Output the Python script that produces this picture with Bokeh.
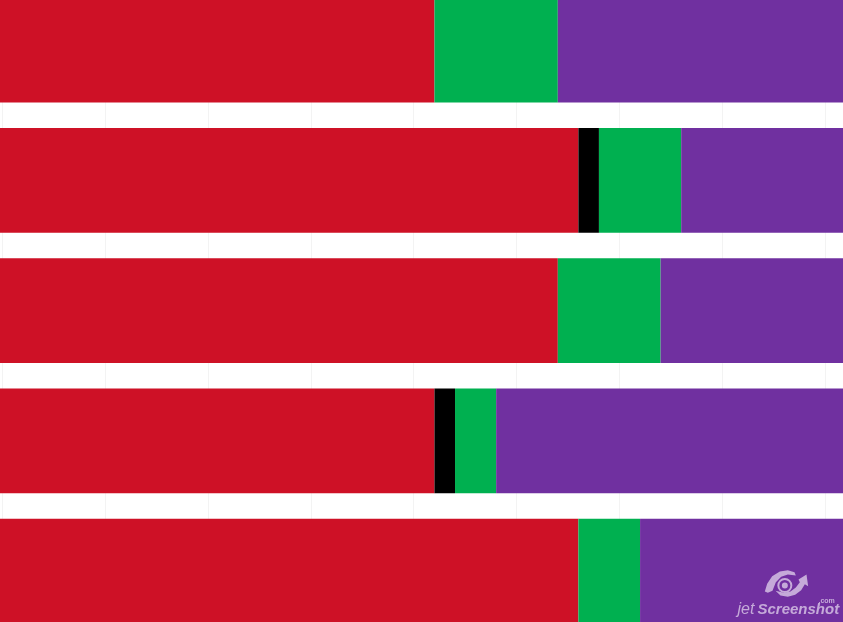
from bokeh.plotting import figure
from bokeh.embed import file_html
from bokeh.resources import INLINE
from bokeh.models import Range1d, Label, FixedTicker

rows = ["A", "B", "C", "D", "E"]
red = [21, 28, 27, 21, 28]
black = [0, 1, 0, 1, 0]
green = [6, 4, 5, 2, 3]
purple = [14, 8, 9, 17, 10]
x_ticks = [0, 5, 10, 15, 20, 25, 30, 35, 40]

W, H = 844, 623          # one extra pixel: the frame starts one pixel in
UNIT_PX = 20.56
ZERO_PX = 3.2
ROW_PX = 130.25
FIRST_ROW_PX = 50.6
x0 = -ZERO_PX / UNIT_PX
x1 = x0 + W / UNIT_PX
y_top = -FIRST_ROW_PX / ROW_PX
y_bottom = y_top + H / ROW_PX

p = figure(width=W, height=H, output_backend="svg", toolbar_location=None,
           x_range=Range1d(x0, x1), y_range=Range1d(y_bottom, y_top),
           min_border=0, min_border_left=0, min_border_right=0, min_border_top=0, min_border_bottom=0)
p.outline_line_color = None
p.axis.visible = False
p.ygrid.visible = False
p.xgrid.ticker = FixedTicker(ticks=x_ticks)
p.xgrid.grid_line_color = "#f3f3f3"
p.xgrid.grid_line_width = 1
p.background_fill_color = "white"
p.styles = {"position": "fixed", "left": "-1px", "top": "-1px"}

ys = list(range(len(rows)))
left = [0.0] * 5
for vals, col in [(red, "#CE1126"), (black, "#000000"), (green, "#00B050"), (purple, "#7030A0")]:
    right = [a + b for a, b in zip(left, vals)]
    # the first series runs on to the plot's left edge, as in the reference
    starts = [x0 - 1 if col == "#CE1126" else a for a in left]
    p.hbar(y=ys, left=starts, right=right, height=104.6 / ROW_PX, fill_color=col, line_color=None)
    left = right

# watermark, given in pixels of the reference image
mark = "#C5AAD9"
def sx(px):
    return x0 + (px + 1) / UNIT_PX
def sy(px):
    return y_top + (px + 1) / ROW_PX
def zoomed(points):
    return ([sx(730 + a / 3) for a, _ in points], [sy(565 + b / 3) for _, b in points])

crescent_a = [(103, 78), (110, 55), (125, 32), (148, 18), (172, 14), (192, 20), (196, 30),
              (172, 27), (152, 34), (136, 50), (126, 76), (112, 82)]
crescent_b = [(204, 42), (228, 27), (233, 62), (223, 56), (212, 74), (194, 88), (172, 94),
              (150, 90), (135, 76), (160, 82), (180, 78), (196, 66), (208, 50)]
xa, ya = zoomed(crescent_a)
xb, yb = zoomed(crescent_b)
p.patches(xs=[xa, xb], ys=[ya, yb], fill_color=mark, line_color=None)
cx, cy = sx(730 + 163 / 3), sy(565 + 60 / 3)
p.scatter(x=[cx], y=[cy], size=13, fill_color=None, line_color=mark, line_width=2)
p.scatter(x=[cx], y=[cy], size=6, fill_color=mark, line_color=None)

p.add_layout(Label(x=738, y=6, x_units="screen", y_units="screen", text="jet",
                   text_font="Liberation Sans", text_font_size="16px", text_font_style="italic",
                   text_color=mark))
p.add_layout(Label(x=758, y=6, x_units="screen", y_units="screen", text="Screenshot",
                   text_font="Liberation Sans", text_font_size="15px", text_font_style="bold italic",
                   text_color=mark))
p.add_layout(Label(x=819, y=19, x_units="screen", y_units="screen", text=".com",
                   text_font="Liberation Sans", text_font_size="7px", text_font_style="bold",
                   text_color=mark))

open("out.html", "w").write(file_html(p, INLINE))
